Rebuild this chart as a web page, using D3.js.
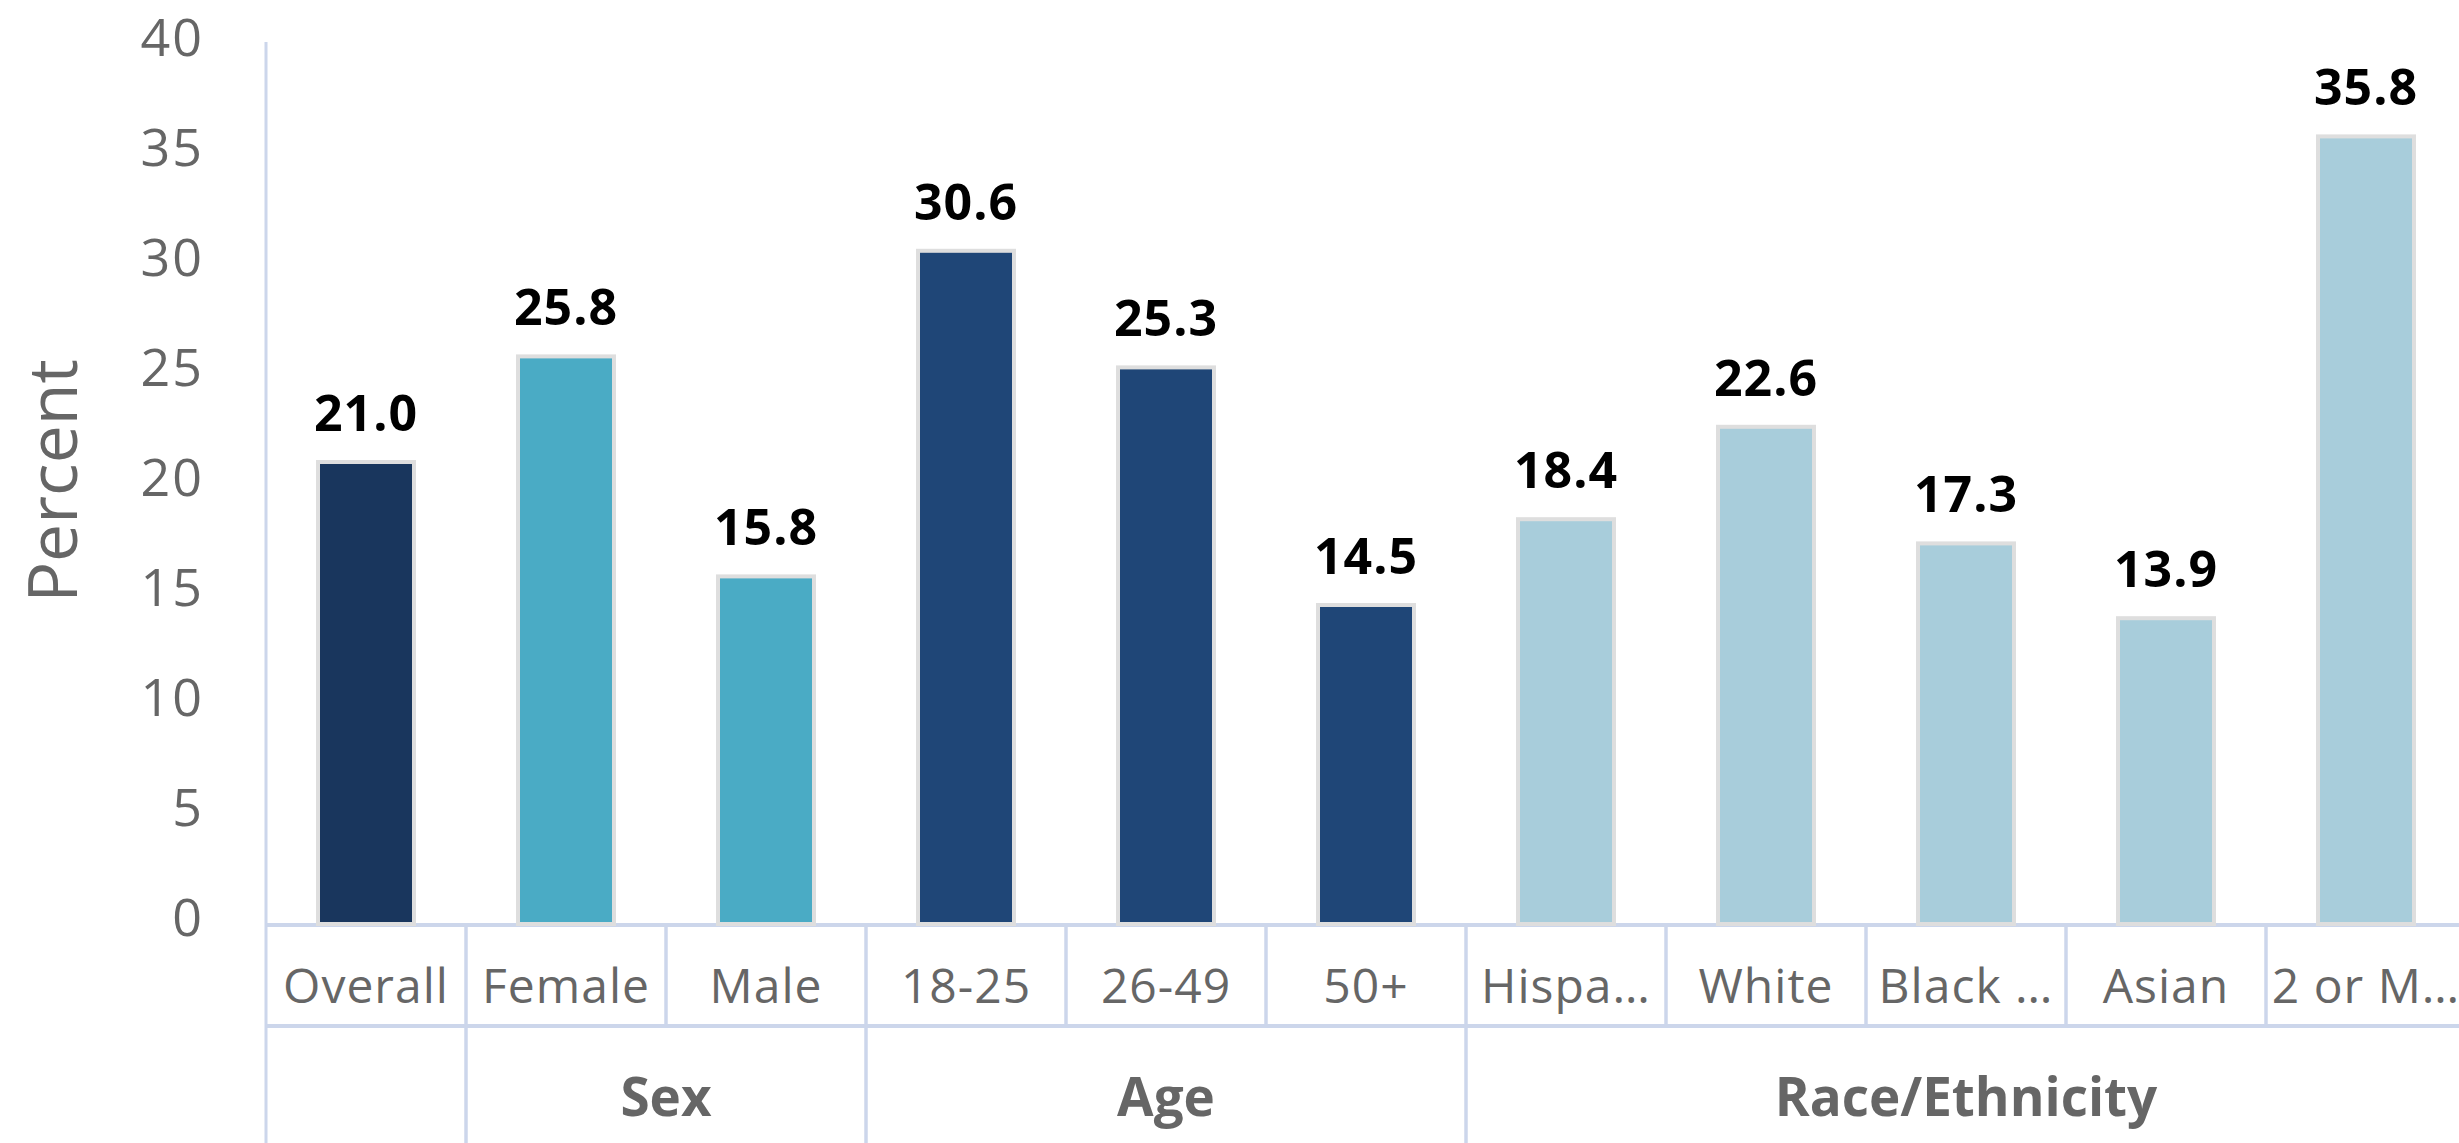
<!DOCTYPE html>
<html>
<head>
<meta charset="utf-8">
<script src="https://cdn.jsdelivr.net/npm/d3@7"></script>
<style>
  html, body { margin: 0; padding: 0; background: #ffffff; }
  svg { display: block; }
  text { font-family: "Open Sans", "DejaVu Sans", sans-serif; }
</style>
</head>
<body>
<svg id="chart" width="2459" height="1143"></svg>
<script>
// ---- data ----
const categories = ["Overall", "Female", "Male", "18-25", "26-49", "50+", "Hispa…", "White", "Black …", "Asian", "2 or M…"];
const groupOfCategory = ["", "Sex", "Sex", "Age", "Age", "Age", "Race/Ethnicity", "Race/Ethnicity", "Race/Ethnicity", "Race/Ethnicity", "Race/Ethnicity"];
const values = [21.0, 25.8, 15.8, 30.6, 25.3, 14.5, 18.4, 22.6, 17.3, 13.9, 35.8];
const yTicks = [0, 5, 10, 15, 20, 25, 30, 35, 40];
const groupNames = ["", "Sex", "Age", "Race/Ethnicity"];
const groupColors = ["#19365d", "#4aabc5", "#1f4677", "#a8cddb"];
const yTitle = "Percent";

// ---- layout ----
const W = 2459, H = 1143;
const left = 266, band = 200;
const baseY = 924, topY = 44;
const row1 = 1026;          // bottom of category label row
const gridColor = "#ccd6eb";

const svg = d3.select("#chart");

const x = d3.scaleBand().domain(categories).range([left, left + band * categories.length]).paddingInner(0).paddingOuter(0);
const y = d3.scaleLinear().domain([0, 40]).range([baseY, topY]);
const color = d3.scaleOrdinal().domain(groupNames).range(groupColors);

// ---- group spans ----
const spans = [];
categories.forEach((c, i) => {
  const g = groupOfCategory[i];
  const last = spans[spans.length - 1];
  if (last && last.name === g) { last.end = c; }
  else spans.push({ name: g, start: c, end: c });
});

// ---- y axis ----
const yAxis = d3.axisLeft(y).tickValues(yTicks).tickSize(0).tickPadding(0).tickFormat(d3.format("d"));
const gy = svg.append("g").attr("transform", "translate(204,0)").call(yAxis);
gy.select(".domain").remove();
gy.selectAll("text")
  .attr("dy", null).attr("y", 11)
  .attr("fill", "#666666")
  .style("font-size", "52px")
  .style("letter-spacing", "2px");

// y axis title
svg.append("text")
  .attr("transform", "translate(77,481) rotate(-90)")
  .attr("text-anchor", "middle")
  .attr("fill", "#666666")
  .style("font-size", "68px")
  .text(yTitle);

// ---- grid of category axis ----
const lines = svg.append("g").attr("stroke", gridColor).attr("fill", "none");
lines.append("line").attr("x1", left).attr("x2", left).attr("y1", 42).attr("y2", H).attr("stroke-width", 3);
lines.append("line").attr("x1", left).attr("x2", W).attr("y1", baseY + 1).attr("y2", baseY + 1).attr("stroke-width", 4);
lines.append("line").attr("x1", left).attr("x2", W).attr("y1", row1).attr("y2", row1).attr("stroke-width", 4);
categories.slice(1).forEach(c => {
  lines.append("line").attr("x1", x(c)).attr("x2", x(c)).attr("y1", baseY).attr("y2", row1).attr("stroke-width", 3.5);
});
spans.slice(1).forEach(s => {
  lines.append("line").attr("x1", x(s.start)).attr("x2", x(s.start)).attr("y1", row1).attr("y2", H).attr("stroke-width", 3.5);
});

// ---- bars ----
const barW = 96;
svg.append("g").selectAll("rect")
  .data(values)
  .join("rect")
  .attr("x", (d, i) => x(categories[i]) + x.bandwidth() / 2 - barW / 2)
  .attr("y", d => y(d))
  .attr("width", barW)
  .attr("height", d => baseY - y(d))
  .attr("fill", (d, i) => color(groupOfCategory[i]))
  .attr("stroke", "#dedede")
  .attr("stroke-width", 4);

// value labels
svg.append("g").selectAll("text")
  .data(values)
  .join("text")
  .attr("x", (d, i) => x(categories[i]) + x.bandwidth() / 2)
  .attr("y", d => y(d) - 31)
  .attr("text-anchor", "middle")
  .attr("fill", "#000000")
  .style("font-size", "50px")
  .style("font-weight", "bold")
  .style("letter-spacing", "1px")
  .text(d => d3.format(".1f")(d));

// category labels
svg.append("g").selectAll("text")
  .data(categories)
  .join("text")
  .attr("x", c => x(c) + x.bandwidth() / 2)
  .attr("y", 1003)
  .attr("text-anchor", "middle")
  .attr("fill", "#666666")
  .style("font-size", "48px")
  .style("letter-spacing", "1px")
  .text(c => c);

// group labels
svg.append("g").selectAll("text")
  .data(spans.filter(s => s.name !== ""))
  .join("text")
  .attr("x", s => (x(s.start) + x(s.end) + x.bandwidth()) / 2)
  .attr("y", 1116)
  .attr("text-anchor", "middle")
  .attr("fill", "#666666")
  .style("font-size", "53px")
  .style("font-weight", "bold")
  .text(s => s.name);
</script>
</body>
</html>
